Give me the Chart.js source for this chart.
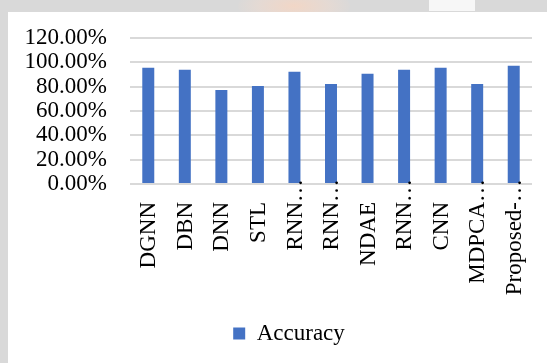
<!DOCTYPE html>
<html>
<head>
<meta charset="utf-8">
<script src="https://cdn.jsdelivr.net/npm/chart.js@4/dist/chart.umd.min.js"></script>
<style>
  html, body { margin: 0; padding: 0; }
  body {
    width: 547px; height: 363px; overflow: hidden; position: relative;
    background: #d9d9d9;
  }
  .glow {
    position: absolute; left: 238px; top: -14px; width: 112px; height: 40px;
    border-radius: 50%;
    background: radial-gradient(ellipse at center, rgba(244,214,196,0.9) 0%, rgba(236,218,208,0.6) 45%, rgba(217,217,217,0) 75%);
  }
  .patch { position: absolute; left: 429px; top: 0; width: 46px; height: 11px; background: #f7f7f7; }
  .panel {
    position: absolute; left: 8px; top: 12px; width: 539px; height: 351px; background: #ffffff;
  }
  canvas { display: block; }
</style>
</head>
<body>
<div class="glow"></div>
<div class="patch"></div>
<div class="panel"><canvas id="chart" width="539" height="351"></canvas></div>
<script>
// Methods compared and their accuracy (fraction of 1)
const methods = ['DGNN', 'DBN', 'DNN', 'STL', 'RNN…', 'RNN…', 'NDAE', 'RNN…', 'CNN', 'MDPCA…', 'Proposed-…'];
const accuracy = [0.956, 0.939, 0.772, 0.806, 0.922, 0.822, 0.906, 0.939, 0.956, 0.822, 0.972];
const seriesName = 'Accuracy';
const yTicks = [0, 0.2, 0.4, 0.6, 0.8, 1.0, 1.2];

const serif = '"Liberation Serif", "Times New Roman", serif';
const fontSize = 23;
const barBlue = '#4472C4';
const gridGray = '#d9d9d9';

// Category names are written vertically under each bar; a trailing ellipsis
// runs on past the start of the name toward the axis line.
const verticalCategoryText = {
  id: 'verticalCategoryText',
  afterDraw(chart) {
    const scale = chart.scales.x;
    const ctx = chart.ctx;
    const start = scale.top + 18;
    ctx.save();
    ctx.font = fontSize + 'px ' + serif;
    ctx.fillStyle = '#000000';
    ctx.textBaseline = 'middle';
    methods.forEach((name, i) => {
      const x = scale.getPixelForTick(i) + 1;
      const cut = name.endsWith('…');
      const core = cut ? name.slice(0, -1) : name;
      ctx.save();
      ctx.translate(x, start);
      ctx.rotate(-Math.PI / 2);
      ctx.textAlign = 'right';
      ctx.fillText(core, 0, 0);
      if (cut) {
        ctx.textAlign = 'left';
        ctx.fillText('…', 0, 0);
      }
      ctx.restore();
    });
    ctx.restore();
  }
};

// The legend sits a little right of the canvas centre.
const legendNudge = {
  id: 'legendNudge',
  afterLayout(chart) {
    chart.legend.left += 12;
    chart.legend.right += 12;
  }
};

new Chart(document.getElementById('chart'), {
  type: 'bar',
  data: {
    labels: methods,
    datasets: [{
      label: seriesName,
      data: accuracy,
      backgroundColor: barBlue,
      borderWidth: 0,
      categoryPercentage: 0.8,
      barPercentage: 0.41
    }]
  },
  options: {
    responsive: false,
    animation: false,
    devicePixelRatio: 1,
    layout: { padding: { top: 26, left: 14, right: 15, bottom: 8 } },
    plugins: {
      tooltip: { enabled: false },
      legend: {
        display: true,
        position: 'bottom',
        labels: {
          color: '#000000',
          font: { family: serif, size: fontSize },
          boxWidth: 12,
          boxHeight: 12,
          padding: 10
        }
      }
    },
    scales: {
      x: {
        grid: { display: false, drawTicks: false },
        border: { display: false },
        ticks: { display: false },
        afterFit(scale) { scale.height = 128; }
      },
      y: {
        min: 0,
        max: 1.2,
        afterBuildTicks(scale) { scale.ticks = yTicks.map(v => ({ value: v })); },
        grid: { color: gridGray, lineWidth: 2, drawTicks: false },
        border: { display: false },
        ticks: {
          autoSkip: false,
          color: '#000000',
          font: { family: serif, size: fontSize, lineHeight: 1 },
          padding: 23,
          callback: v => (v * 100).toFixed(2) + '%'
        },
        afterFit(scale) {
          scale.width = 108;
          scale.paddingTop = 0;
          scale.paddingBottom = 0;
        }
      }
    }
  },
  plugins: [verticalCategoryText, legendNudge]
});
</script>
</body>
</html>
